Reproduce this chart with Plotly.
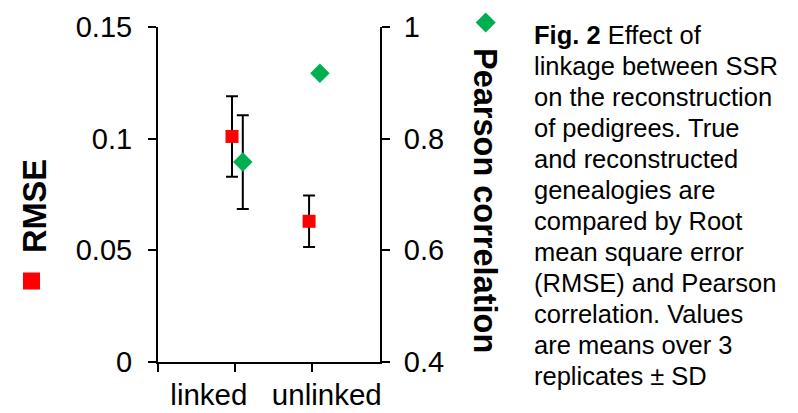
import plotly.graph_objects as go

categories = ["linked", "unlinked"]
rmse_mean = [0.101, 0.063]
rmse_sd = [0.018, 0.0115]
pearson_mean = [0.758, 0.917]
pearson_sd = [0.084, 0.0]

left_ticks = [0, 0.05, 0.1, 0.15]
left_ticktext = ["0", "0.05", "0.1", "0.15"]
right_ticks = [0.4, 0.6, 0.8, 1.0]
right_ticktext = ["0.4", "0.6", "0.8", "1"]

caption_lines = [
    "<b>Fig. 2</b> Effect of",
    "linkage between SSR",
    "on the reconstruction",
    "of pedigrees. True",
    "and reconstructed",
    "genealogies are",
    "compared by Root",
    "mean square error",
    "(RMSE) and Pearson",
    "correlation. Values",
    "are means over 3",
    "replicates ± SD",
]

W, H = 798, 413
L, R, T, B = 158, 380, 27, 362
FONT = "Arial, Liberation Sans, sans-serif"

def px(x):
    return (x - L) / (R - L)

def py(y):
    return (B - y) / (B - T)

cat_pos = [1, 2]
red_x = [p - 0.04 for p in cat_pos]
green_x = [p + 0.10 for p in cat_pos]

fig = go.Figure()
fig.add_trace(go.Scatter(
    x=red_x, y=rmse_mean, mode="markers", name="RMSE",
    marker=dict(symbol="square", size=13, color="#ff0000"),
    error_y=dict(type="data", array=rmse_sd, visible=True, color="black", thickness=2, width=6),
    xaxis="x", yaxis="y", showlegend=False,
))
fig.add_trace(go.Scatter(
    x=green_x, y=pearson_mean, mode="markers", name="Pearson correlation",
    marker=dict(symbol="diamond", size=15, color="#00b050"),
    error_y=dict(type="data", array=pearson_sd, visible=True, color="black", thickness=2, width=6),
    xaxis="x", yaxis="y2", showlegend=False,
))
# invisible trace to activate label axis
fig.add_trace(go.Scatter(x=[cat_pos[0]], y=[rmse_mean[0]], mode="markers",
                         marker=dict(opacity=0), xaxis="x2", yaxis="y",
                         showlegend=False, hoverinfo="skip"))

xrange = [0, 2.88]
fig.update_layout(
    width=W, height=H,
    margin=dict(l=L, r=W - R, t=T, b=H - B, autoexpand=False),
    paper_bgcolor="white", plot_bgcolor="white",
    font=dict(family=FONT, size=29, color="black"),
    xaxis=dict(range=xrange, tickvals=[0, 1, 2], showticklabels=False,
               ticks="outside", ticklen=8, tickwidth=2, tickcolor="black",
               showline=True, linewidth=2, linecolor="black",
               showgrid=False, zeroline=False, automargin=False),
    xaxis2=dict(range=xrange, overlaying="x", side="bottom", anchor="y",
                tickvals=[0.66, 2.19], ticktext=categories, ticks="",
                showline=False, showgrid=False, zeroline=False,
                tickfont=dict(size=29.5), ticklabelstandoff=12, automargin=False),
    yaxis=dict(range=[0, 0.15], tickvals=left_ticks, ticktext=left_ticktext,
               ticks="outside", ticklen=8, tickwidth=2, tickcolor="black",
               showline=True, linewidth=2, linecolor="black",
               showgrid=False, zeroline=False, ticklabelstandoff=10, automargin=False),
    yaxis2=dict(range=[0.4, 1.0], tickvals=right_ticks, ticktext=right_ticktext,
                overlaying="y", side="right", anchor="x",
                ticks="outside", ticklen=8, tickwidth=2, tickcolor="black",
                showline=True, linewidth=2, linecolor="black",
                showgrid=False, zeroline=False, ticklabelstandoff=8, automargin=False),
)

annotations = [
    dict(text="<b>RMSE</b>", x=px(35), y=py(206), xref="paper", yref="paper",
         textangle=-90, showarrow=False, font=dict(size=32.5, family=FONT),
         xanchor="center", yanchor="middle"),
    dict(text="<b>Pearson correlation</b>", x=px(485), y=py(200), xref="paper", yref="paper",
         textangle=90, showarrow=False, font=dict(size=32.5, family=FONT),
         xanchor="center", yanchor="middle"),
]
for i, line in enumerate(caption_lines):
    center = 35 + 31 * i
    annotations.append(dict(text=line, x=px(532), y=py(center), xref="paper", yref="paper",
                            showarrow=False, xanchor="left", yanchor="middle",
                            font=dict(size=25.5, family=FONT)))
fig.update_layout(annotations=annotations)

# legend-like markers beside axis titles
sq_c, sq_h = (31.5, 281), 8.5
dm_c, dm_h = (485.7, 22.5), 10
fig.add_shape(type="rect", xref="paper", yref="paper",
              x0=px(sq_c[0] - sq_h), x1=px(sq_c[0] + sq_h),
              y0=py(sq_c[1] + sq_h), y1=py(sq_c[1] - sq_h),
              fillcolor="#ff0000", line=dict(width=0))
path = "M {} {} L {} {} L {} {} L {} {} Z".format(
    px(dm_c[0]), py(dm_c[1] - dm_h), px(dm_c[0] + dm_h), py(dm_c[1]),
    px(dm_c[0]), py(dm_c[1] + dm_h), px(dm_c[0] - dm_h), py(dm_c[1]))
fig.add_shape(type="path", xref="paper", yref="paper", path=path,
              fillcolor="#00b050", line=dict(width=0))

fig.write_html("out.html")
